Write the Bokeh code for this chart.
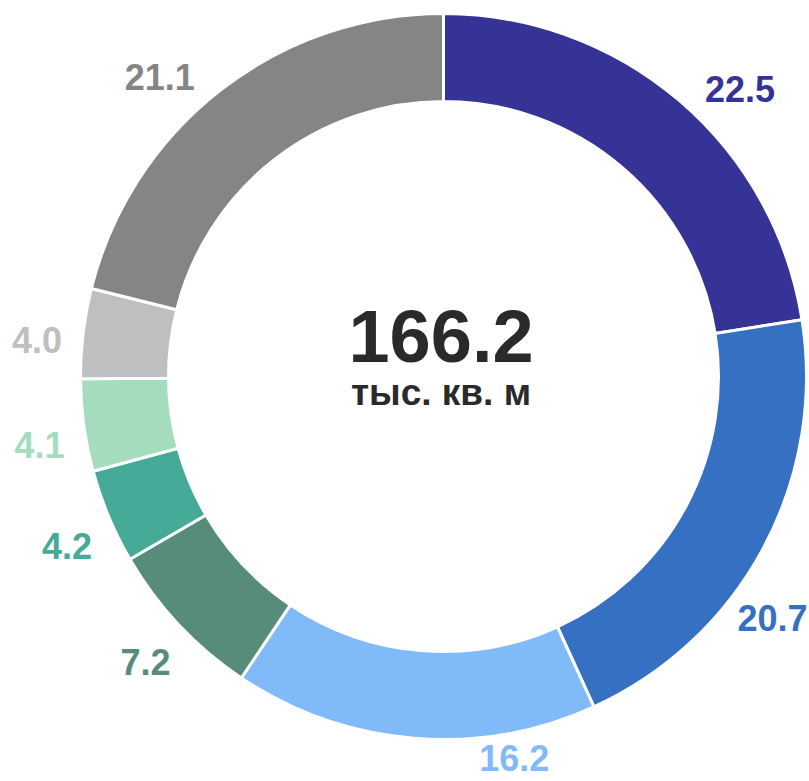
import math
from bokeh.plotting import figure
from bokeh.models import ColumnDataSource, Range1d
from bokeh.embed import file_html
from bokeh.resources import INLINE
from bokeh.core.properties import value

# ---- data ----
values = [22.5, 20.7, 16.2, 7.2, 4.2, 4.1, 4.0, 21.1]
labels = ["22.5", "20.7", "16.2", "7.2", "4.2", "4.1", "4.0", "21.1"]
colors = ["#363396", "#3670C3", "#80BAF9", "#568C79", "#45AA98", "#A3DDBE", "#BFBFBF", "#858585"]
total_value = "166.2"
total_unit = "тыс. кв. м"

# ---- layout / style ----
W, H = 809, 781
CX, CY_SCREEN = 443, 376
CY = H - CY_SCREEN
R_OUT, R_IN = 363, 275
LABEL_FS = 36
label_nudge_deg = [5.4, 7.5, -14.9, -0.6, -1.6, -1.9, -1.7, -5.5]
FONT = "Liberation Sans"

total = sum(values)
starts, ends, mids = [], [], []
acc = 0.0
for v in values:
    s = acc / total
    acc += v
    e = acc / total
    starts.append(math.pi / 2 - 2 * math.pi * e)
    ends.append(math.pi / 2 - 2 * math.pi * s)
    mids.append((s + e) / 2)

def text_width(t, fs):
    w = 0.0
    for ch in t:
        w += 0.278 if ch == "." else 0.556
    return w * fs

pad = 4
box_hw = max(text_width(t, LABEL_FS) for t in labels) / 2 + pad
box_hh = 1.2 * LABEL_FS / 2 + pad

lx, ly = [], []
for i, t in enumerate(labels):
    th = 2 * math.pi * mids[i] + math.radians(label_nudge_deg[i])
    vx, vy = math.sin(th), math.cos(th)  # data coords (y up)
    tw = text_width(t, LABEL_FS)
    d = R_OUT + 4 + box_hw * abs(vx) + box_hh * abs(vy)
    x = CX + d * vx
    y = CY + d * vy
    # clamp the label inside the frame
    half_h = 0.6 * LABEL_FS
    x = min(max(x, tw / 2 + 2), W - tw / 2 - 2)
    y = min(max(y, half_h + 2), H - half_h - 2)
    lx.append(x)
    ly.append(y)

src = ColumnDataSource(dict(start=starts, end=ends, color=colors))
lsrc = ColumnDataSource(dict(x=lx, y=ly, text=labels, color=colors))

p = figure(width=W, height=H, x_range=Range1d(0, W), y_range=Range1d(0, H),
           output_backend="svg", toolbar_location=None,
           x_axis_type=None, y_axis_type=None, min_border=0,
           outline_line_color=None, background_fill_color="white",
           border_fill_color="white")
p.grid.visible = False

p.annular_wedge(x=CX, y=CY, inner_radius=R_IN, outer_radius=R_OUT,
                start_angle="start", end_angle="end", direction="anticlock",
                fill_color="color", line_color="white", line_width=3, source=src)

p.text(x="x", y="y", text="text", text_color="color", source=lsrc,
       text_font=value(FONT), text_font_style="bold", text_font_size=f"{LABEL_FS}px",
       text_align="center", text_baseline="middle")

p.text(x=[CX - 2.5], y=[H - 335], text=[total_value], text_color="#2a2a2a",
       text_font=value(FONT), text_font_style="bold", text_font_size="74px",
       text_align="center", text_baseline="middle")
p.text(x=[CX - 2.5], y=[H - 392], text=[total_unit], text_color="#2a2a2a",
       text_font=value(FONT), text_font_style="bold", text_font_size="37px",
       text_align="center", text_baseline="middle")

open("out.html", "w").write(file_html(p, INLINE))
